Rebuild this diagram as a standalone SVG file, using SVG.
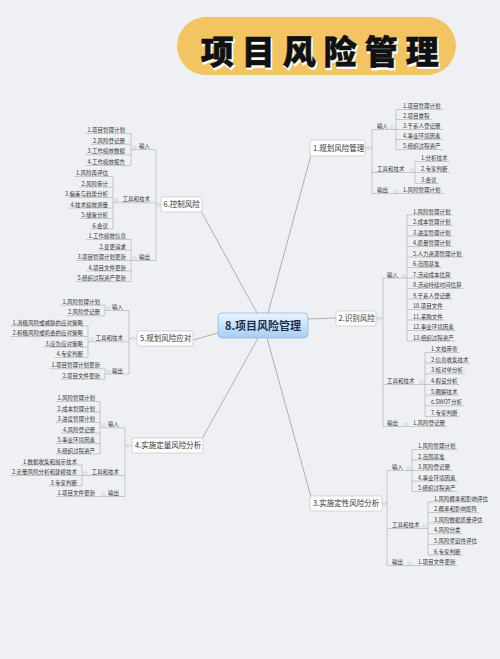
<svg xmlns="http://www.w3.org/2000/svg" width="500" height="659" viewBox="0 0 500 659">
<defs>
<linearGradient id="cg" x1="0" y1="0" x2="0" y2="1">
<stop offset="0" stop-color="#eaf5ff"/>
<stop offset="1" stop-color="#a6cdf4"/>
</linearGradient>
<style>
text{font-family:"Noto Sans CJK SC","Noto Sans",sans-serif}
.lf{font-size:5.5px;fill:#333}
.le{font-size:5.5px;fill:#333;text-anchor:end}
.br{font-size:7.5px;fill:#333}
.bx{fill:#fff;stroke:#bcbcbc;stroke-width:0.6}
.ln{stroke:#adadad;stroke-width:0.6;fill:none}
.cl{stroke:#a0a0a0;stroke-width:0.8;fill:none}
.mk{fill:#e3e8f1;stroke:#b7c2d4;stroke-width:0.4}
</style>
</defs>
<rect width="500" height="659" fill="#eef0f4"/>
<g id="title">
<rect x="177" y="17" width="279" height="58" rx="29" fill="#f2c462"/>
<text x="202" y="65.5" font-size="33" font-weight="900" letter-spacing="8" fill="#fff" stroke="#fff" stroke-width="1.5">项目风险管理</text>
<text x="200.8" y="64.3" font-size="33" font-weight="900" letter-spacing="8" fill="#111" stroke="#111" stroke-width="0.6">项目风险管理</text>
</g>
<g id="connectors">
<path class="cl" d="M268 313 L311 155 M308 319 L336 318 M267 338 L311 497 M258 338 L202 439 M218 333 L193 340 M257 313 L201 211"/>
<!-- branch 1 -->
<path class="ln" d="M365 148 H372 M372 129.5 V193.5 M372 129.5 H396 M396 109.5 V149.5 M396 109.5 H443 M396 119.5 H432 M396 129.5 H443 M396 139.5 H443 M396 149.5 H443 M372 172.5 H415 M415 161.5 V183.5 M415 161.5 H450 M415 172.5 H450 M415 183.5 H439 M372 193.5 H444"/>
<!-- branch 2 -->
<path class="ln" d="M376 318.5 H383 M383 278 V426.5 M383 278 H407 M407 215 V341 M407 215 H452.5 M407 225.5 H452.5 M407 236 H452.5 M407 246.5 H452.5 M407 257 H463.5 M407 267.5 H441.5 M407 278 H452.5 M407 288.5 H463.5 M407 299 H452.5 M407 309.5 H444.6 M407 320 H444.6 M407 330.5 H455.6 M407 341 H455.6 M383 384.5 H425 M425 352.5 V416.5 M425 352.5 H459.5 M425 363.2 H470.5 M425 373.8 H465 M425 384.5 H459.5 M425 395.2 H459.5 M425 405.8 H464 M425 416.5 H459.5 M383 426.5 H447"/>
<!-- branch 3 -->
<path class="ln" d="M382 503.5 H387 M387 470.5 V565.5 M387 470.5 H412 M412 449.5 V491.5 M412 449.5 H457.5 M412 460 H446.5 M412 470.5 H452 M412 481 H457.5 M412 491.5 H457.5 M387 528.5 H428 M428 502 V555 M428 502 H484.5 M428 512.6 H479 M428 523.2 H479 M428 533.8 H462.5 M428 544.4 H473.5 M428 555 H462.5 M387 565.5 H457.5"/>
<!-- branch 6 -->
<path class="ln" d="M161 204.5 H156 M156 149.5 V260.5 M131 149.5 H156 M131 133.5 V165.5 M85.5 133.5 H131 M91 144.2 H131 M85.5 154.8 H131 M85.5 165.5 H131 M113 202.75 H156 M113 176.5 V229 M74 176.5 H113 M79.5 187 H113 M68.5 197.5 H113 M68.5 208 H113 M79.5 218.5 H113 M90.5 229 H113 M131 260.5 H156 M131 239.5 V281.5 M86.5 239.5 H131 M97.5 250 H131 M75.5 260.5 H131 M86.5 271 H131 M75.5 281.5 H131"/>
<!-- branch 5 -->
<path class="ln" d="M137 338.5 H129 M129 310.5 V374 M105 310.5 H129 M105 305.25 V315.75 M60.5 305.25 H105 M66 315.75 H105 M88 341.75 H129 M88 326 V357.5 M10.5 326 H88 M10.5 336.5 H88 M43.5 347 H88 M54.5 357.5 H88 M105 374 H129 M105 368.75 V379.25 M49.5 368.75 H105 M60.5 379.25 H105"/>
<!-- branch 4 -->
<path class="ln" d="M132 445.5 H125 M125 427.75 V496.5 M100 427.75 H125 M100 401.5 V454 M55.5 401.5 H100 M55.5 412 H100 M55.5 422.5 H100 M61 433 H100 M55.5 443.5 H100 M55.5 454 H100 M82 475.5 H125 M82 465 V486 M21 465 H82 M10 475.5 H82 M48.5 486 H82 M55.5 496.5 H125"/>
<g>
<circle class="mk" cx="368.5" cy="148" r="1.8"/><circle class="mk" cx="392.5" cy="127.5" r="1.8"/><circle class="mk" cx="411.5" cy="170.5" r="1.8"/><circle class="mk" cx="396" cy="191.5" r="1.8"/>
<circle class="mk" cx="379.5" cy="318.5" r="1.8"/><circle class="mk" cx="403.5" cy="276" r="1.8"/><circle class="mk" cx="421.5" cy="382.5" r="1.8"/><circle class="mk" cx="406" cy="424.5" r="1.8"/>
<circle class="mk" cx="384.5" cy="503.5" r="1.5"/><circle class="mk" cx="408.5" cy="468.5" r="1.8"/><circle class="mk" cx="424.5" cy="526.5" r="1.8"/><circle class="mk" cx="409.5" cy="563.5" r="1.8"/>
<circle class="mk" cx="158.5" cy="204.5" r="1.6"/><circle class="mk" cx="134.5" cy="147.5" r="1.8"/><circle class="mk" cx="116.5" cy="200.5" r="1.8"/><circle class="mk" cx="134.5" cy="258.5" r="1.8"/>
<circle class="mk" cx="133" cy="338.5" r="1.8"/><circle class="mk" cx="108.5" cy="308.5" r="1.8"/><circle class="mk" cx="91.5" cy="339.5" r="1.8"/><circle class="mk" cx="108.5" cy="372" r="1.8"/>
<circle class="mk" cx="128.5" cy="445.5" r="1.6"/><circle class="mk" cx="103.5" cy="425.5" r="1.8"/><circle class="mk" cx="85.5" cy="473.5" r="1.8"/><circle class="mk" cx="103.5" cy="494.5" r="1.8"/>
</g>
</g>
<g id="center">
<rect x="218" y="313" width="90" height="25" rx="4" fill="url(#cg)" stroke="#8db6de" stroke-width="0.8"/>
<text x="263" y="329.5" font-size="11" font-weight="700" fill="#1e2f4d" text-anchor="middle">8.项目风险管理</text>
</g>
<g id="b1">
<rect class="bx" x="310" y="140" width="55" height="16" rx="2"/>
<text class="br" x="313" y="150.7">1.规划风险管理</text>
<text class="lf" x="377" y="128">输入</text>
<text class="lf" x="403" y="108">1.项目管理计划</text>
<text class="lf" x="403" y="118">2.项目章程</text>
<text class="lf" x="403" y="128">3.干系人登记册</text>
<text class="lf" x="403" y="138">4.事业环境因素</text>
<text class="lf" x="403" y="148">5.组织过程资产</text>
<text class="lf" x="377" y="171">工具和技术</text>
<text class="lf" x="421" y="160">1.分析技术</text>
<text class="lf" x="421" y="171">2.专家判断</text>
<text class="lf" x="421" y="182">3.会议</text>
<text class="lf" x="377" y="192">输出</text>
<text class="lf" x="403" y="192">1.风险管理计划</text>
</g>
<g id="b2">
<rect class="bx" x="336" y="311" width="40" height="15" rx="2"/>
<text class="br" x="338.5" y="321.2">2.识别风险</text>
<text class="lf" x="387" y="276.5">输入</text>
<text class="lf" x="413" y="213.5">1.风险管理计划</text>
<text class="lf" x="413" y="224">2.成本管理计划</text>
<text class="lf" x="413" y="234.5">3.进度管理计划</text>
<text class="lf" x="413" y="245">4.质量管理计划</text>
<text class="lf" x="413" y="255.5">5.人力资源管理计划</text>
<text class="lf" x="413" y="266">6.范围基准</text>
<text class="lf" x="413" y="276.5">7.活动成本估算</text>
<text class="lf" x="413" y="287">8.活动持续时间估算</text>
<text class="lf" x="413" y="297.5">9.干系人登记册</text>
<text class="lf" x="413" y="308">10.项目文件</text>
<text class="lf" x="413" y="318.5">11.采购文件</text>
<text class="lf" x="413" y="329">12.事业环境因素</text>
<text class="lf" x="413" y="339.5">13.组织过程资产</text>
<text class="lf" x="387" y="383">工具和技术</text>
<text class="lf" x="431" y="351">1.文档审查</text>
<text class="lf" x="431" y="361.7">2.信息收集技术</text>
<text class="lf" x="431" y="372.3">3.核对单分析</text>
<text class="lf" x="431" y="383">4.假设分析</text>
<text class="lf" x="431" y="393.7">5.图解技术</text>
<text class="lf" x="431" y="404.3">6.SWOT分析</text>
<text class="lf" x="431" y="415">7.专家判断</text>
<text class="lf" x="387" y="425">输出</text>
<text class="lf" x="413" y="425">1.风险登记册</text>
</g>
<g id="b3">
<rect class="bx" x="310" y="496" width="72" height="15" rx="2"/>
<text class="br" x="313" y="506.2">3.实施定性风险分析</text>
<text class="lf" x="392" y="469">输入</text>
<text class="lf" x="418" y="448">1.风险管理计划</text>
<text class="lf" x="418" y="458.5">2.范围基准</text>
<text class="lf" x="418" y="469">3.风险登记册</text>
<text class="lf" x="418" y="479.5">4.事业环境因素</text>
<text class="lf" x="418" y="490">5.组织过程资产</text>
<text class="lf" x="392" y="527">工具和技术</text>
<text class="lf" x="434" y="500.5">1.风险概率和影响评估</text>
<text class="lf" x="434" y="511.1">2.概率和影响矩阵</text>
<text class="lf" x="434" y="521.7">3.风险数据质量评估</text>
<text class="lf" x="434" y="532.3">4.风险分类</text>
<text class="lf" x="434" y="542.9">5.风险紧迫性评估</text>
<text class="lf" x="434" y="553.5">6.专家判断</text>
<text class="lf" x="392" y="564">输出</text>
<text class="lf" x="418" y="564">1.项目文件更新</text>
</g>
<g id="b6">
<rect class="bx" x="161" y="197" width="41" height="15" rx="2"/>
<text class="br" x="163.5" y="207.2">6.控制风险</text>
<text class="le" x="150" y="148">输入</text>
<text class="le" x="125" y="132">1.项目管理计划</text>
<text class="le" x="125" y="142.7">2.风险登记册</text>
<text class="le" x="125" y="153.3">3.工作绩效数据</text>
<text class="le" x="125" y="164">4.工作绩效报告</text>
<text class="le" x="150" y="201.25">工具和技术</text>
<text class="le" x="108" y="175">1.风险再评估</text>
<text class="le" x="108" y="185.5">2.风险审计</text>
<text class="le" x="108" y="196">3.偏差与趋势分析</text>
<text class="le" x="108" y="206.5">4.技术绩效测量</text>
<text class="le" x="108" y="217">5.储备分析</text>
<text class="le" x="108" y="227.5">6.会议</text>
<text class="le" x="150" y="259">输出</text>
<text class="le" x="126" y="238">1.工作绩效信息</text>
<text class="le" x="126" y="248.5">2.变更请求</text>
<text class="le" x="126" y="259">3.项目管理计划更新</text>
<text class="le" x="126" y="269.5">4.项目文件更新</text>
<text class="le" x="126" y="280">5.组织过程资产更新</text>
</g>
<g id="b5">
<rect class="bx" x="137" y="331" width="56" height="15" rx="2"/>
<text class="br" x="140" y="341.2">5.规划风险应对</text>
<text class="le" x="123" y="309">输入</text>
<text class="le" x="100" y="303.75">1.风险管理计划</text>
<text class="le" x="100" y="314.25">2.风险登记册</text>
<text class="le" x="123" y="340.25">工具和技术</text>
<text class="le" x="83" y="324.5">1.消极风险或威胁的应对策略</text>
<text class="le" x="83" y="335">2.积极风险或机会的应对策略</text>
<text class="le" x="83" y="345.5">3.应急应对策略</text>
<text class="le" x="83" y="356">4.专家判断</text>
<text class="le" x="123" y="372.5">输出</text>
<text class="le" x="100" y="367.25">1.项目管理计划更新</text>
<text class="le" x="100" y="377.75">2.项目文件更新</text>
</g>
<g id="b4">
<rect class="bx" x="132" y="438" width="71" height="15" rx="2"/>
<text class="br" x="135" y="448.2">4.实施定量风险分析</text>
<text class="le" x="119" y="426.25">输入</text>
<text class="le" x="95" y="400">1.风险管理计划</text>
<text class="le" x="95" y="410.5">2.成本管理计划</text>
<text class="le" x="95" y="421">3.进度管理计划</text>
<text class="le" x="95" y="431.5">4.风险登记册</text>
<text class="le" x="95" y="442">5.事业环境因素</text>
<text class="le" x="95" y="452.5">6.组织过程资产</text>
<text class="le" x="119" y="474">工具和技术</text>
<text class="le" x="77" y="463.5">1.数据收集和展示技术</text>
<text class="le" x="77" y="474">2.定量风险分析和建模技术</text>
<text class="le" x="77" y="484.5">3.专家判断</text>
<text class="le" x="119" y="495">输出</text>
<text class="le" x="95" y="495">1.项目文件更新</text>
</g>
</svg>
